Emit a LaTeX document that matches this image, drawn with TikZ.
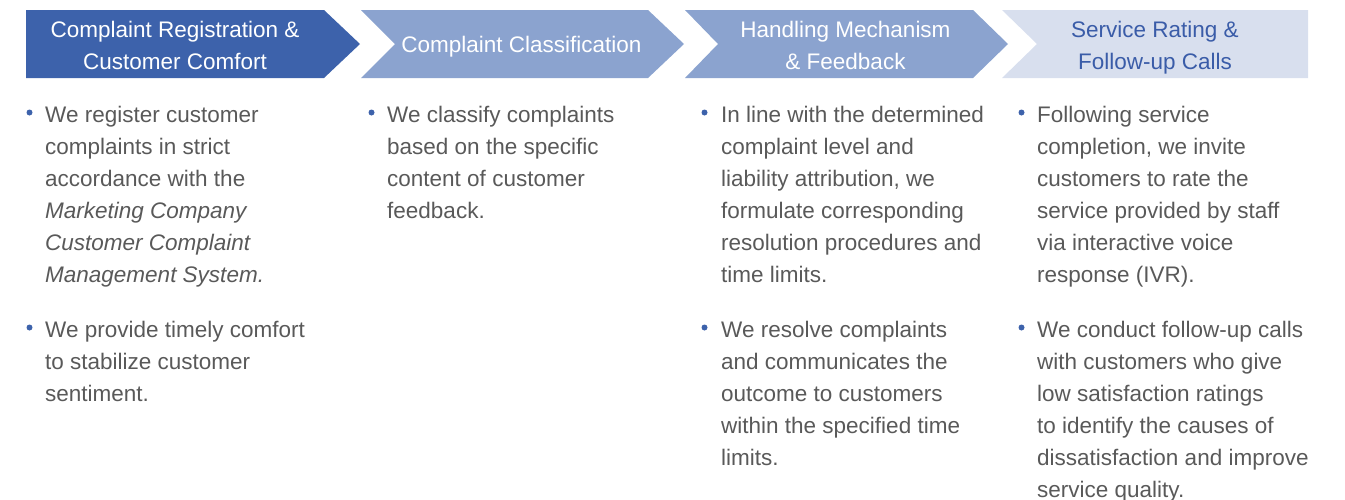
\documentclass[tikz,border=0pt]{standalone}
\usepackage{fontspec}
\setmainfont{Liberation Sans}
\definecolor{cdark}{HTML}{3D62AB}
\definecolor{cmid}{HTML}{8BA3CF}
\definecolor{clight}{HTML}{D8DFEE}
\definecolor{clighttext}{HTML}{3A5CA8}
\definecolor{cbody}{HTML}{595959}
\newcommand{\myhdrpar}[1]{\parbox[t]{320pt}{\fontsize{22.5}{32}\selectfont\centering #1}}
\newcommand{\mybodypar}[1]{\parbox[t]{330pt}{\fontsize{22.5}{32}\selectfont\raggedright #1}}
\tikzset{
  hdr/.style={anchor=base, inner sep=0pt, text=white},
  body/.style={anchor=base west, inner sep=0pt, text=cbody},
  dot/.style={circle, fill=cdark, inner sep=0pt, minimum size=6pt}
}
\begin{document}
\begin{tikzpicture}[x=1pt,y=-1pt]
\useasboundingbox (0,0) rectangle (1345,499);
% header chevrons
\fill[cdark] (26,10) -- (324,10) -- (360,44) -- (324,78) -- (26,78) -- cycle;
\fill[cmid] (361,10) -- (648,10) -- (684,44) -- (648,78) -- (361,78) -- (395,44) -- cycle;
\fill[cmid] (685,10) -- (973,10) -- (1008,44) -- (973,78) -- (685,78) -- (718,44) -- cycle;
\fill[clight] (1002,10) -- (1308,10) -- (1308,78) -- (1002,78) -- (1037,44) -- cycle;
% header texts
\node[hdr] (h1) at (175,37) {\myhdrpar{Complaint Registration \&\\Customer Comfort}};
\node[hdr] (h2) at (521.5,52.5) {\myhdrpar{Complaint Classification}};
\node[hdr] (h3) at (845.5,37) {\myhdrpar{Handling Mechanism\\\& Feedback}};
\node[hdr, text=clighttext] (h4) at (1155,37) {\myhdrpar{Service Rating \&\\Follow-up Calls}};
% column 1
\node[dot] (d11) at (29.5,112.5) {};
\node[body] (b11) at (45,122) {\mybodypar{We register customer\\complaints in strict\\accordance with the\\\textit{Marketing Company}\\\textit{Customer Complaint}\\\textit{Management System.}}};
\node[dot] (d12) at (29.5,327.5) {};
\node[body] (b12) at (45,337) {\mybodypar{We provide timely comfort\\to stabilize customer\\sentiment.}};
% column 2
\node[dot] (d21) at (371.5,112.5) {};
\node[body] (b21) at (387,122) {\mybodypar{We classify complaints\\based on the specific\\content of customer\\feedback.}};
% column 3
\node[dot] (d31) at (704.5,112.5) {};
\node[body] (b31) at (721,122) {\mybodypar{In line with the determined\\complaint level and\\liability attribution, we\\formulate corresponding\\resolution procedures and\\time limits.}};
\node[dot] (d32) at (704.5,327.5) {};
\node[body] (b32) at (721,337) {\mybodypar{We resolve complaints\\and communicates the\\outcome to customers\\within the specified time\\limits.}};
% column 4
\node[dot] (d41) at (1021.5,112.5) {};
\node[body] (b41) at (1037,122) {\mybodypar{Following service\\completion, we invite\\customers to rate the\\service provided by staff\\via interactive voice\\response (IVR).}};
\node[dot] (d42) at (1021.5,327.5) {};
\node[body] (b42) at (1037,337) {\mybodypar{We conduct follow-up calls\\with customers who give\\low satisfaction ratings\\to identify the causes of\\dissatisfaction and improve\\service quality.}};
\end{tikzpicture}
\end{document}
